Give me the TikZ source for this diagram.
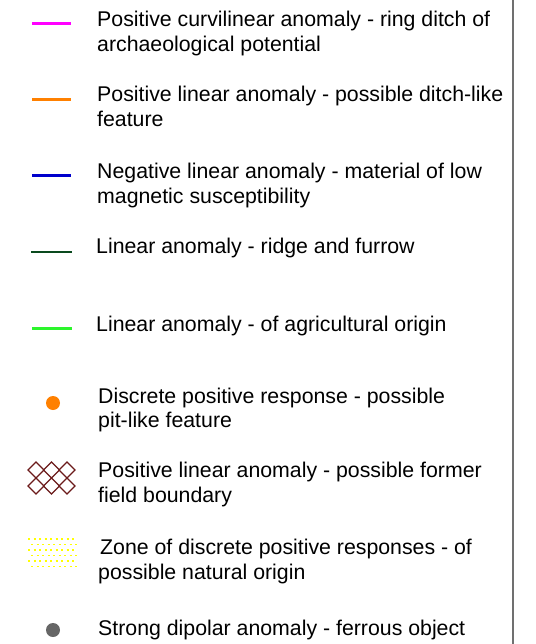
\documentclass[tikz,border=0pt]{standalone}
\usepackage{fontspec}
\setmainfont{Liberation Sans}
\definecolor{cmag}{HTML}{FF00FF}
\definecolor{corange}{HTML}{FF8000}
\definecolor{cblue}{HTML}{0000CC}
\definecolor{cdkgreen}{HTML}{0A4A1E}
\definecolor{cgreen}{HTML}{2CF52C}
\definecolor{chatch}{HTML}{6B1A1A}
\definecolor{cyel}{HTML}{FFFF00}
\definecolor{cgray}{HTML}{666666}
\definecolor{cframe}{HTML}{707070}
\begin{document}
\begin{tikzpicture}[x=1pt,y=-1pt,
  lbl/.style={anchor=base west,inner sep=0pt,font=\fontsize{21.3}{25}\selectfont},
  keyline/.style={line width=3pt},
  diamondline/.style={draw=chatch,line width=1.1pt},
  dotmark/.style={circle,minimum size=14pt,inner sep=0pt}]
\useasboundingbox (0,0) rectangle (535,644);
\draw[cframe,line width=1.5pt] (513,0) -- (513,644);
% item 1
\coordinate (l1a) at (32,24); \coordinate (l1b) at (71,24);
\draw[keyline,cmag] (l1a) -- (l1b);
\node[lbl] (t1a) at (97,27) {Positive curvilinear anomaly - ring ditch of};
\node[lbl] (t1b) at (97,52) {archaeological potential};
% item 2
\coordinate (l2a) at (32,100); \coordinate (l2b) at (71,100);
\draw[keyline,corange] (l2a) -- (l2b);
\node[lbl] (t2a) at (97,102) {Positive linear anomaly - possible ditch-like};
\node[lbl] (t2b) at (97,127) {feature};
% item 3
\coordinate (l3a) at (32,176); \coordinate (l3b) at (71,176);
\draw[keyline,cblue] (l3a) -- (l3b);
\node[lbl] (t3a) at (97,179) {Negative linear anomaly - material of low};
\node[lbl] (t3b) at (97,204) {magnetic susceptibility};
% item 4
\coordinate (l4a) at (31,252); \coordinate (l4b) at (72,252);
\draw[line width=2.5pt,cdkgreen] (l4a) -- (l4b);
\node[lbl] (t4a) at (96,253) {Linear anomaly - ridge and furrow};
% item 5
\coordinate (l5a) at (32,328); \coordinate (l5b) at (72,328);
\draw[keyline,cgreen] (l5a) -- (l5b);
\node[lbl] (t5a) at (96,331) {Linear anomaly - of agricultural origin};
% item 6
\node[dotmark,fill=corange] (d6) at (53,403) {};
\node[lbl] (t6a) at (98,403) {Discrete positive response - possible};
\node[lbl] (t6b) at (98,427) {pit-like feature};
% item 7
\foreach \cx in {36,51.5,67}{
  \foreach \cy in {470,486}{
    \draw[diamondline] (\cx-8,\cy) -- (\cx,\cy-8) -- (\cx+8,\cy) -- (\cx,\cy+8) -- cycle;
  }
}
\node[lbl] (t7a) at (98,477) {Positive linear anomaly - possible former};
\node[lbl] (t7b) at (98,502) {field boundary};
% item 8
\foreach \i/\off in {0/0,1/2.5,2/0,3/2.5,4/0,5/2.5}{
  \draw[cyel,line width=1.6pt,dash pattern=on 2pt off 3.5pt,dash phase=\off pt] (28,539+5.5*\i) -- (77,539+5.5*\i);
}
\node[lbl] (t8a) at (100,554) {Zone of discrete positive responses - of};
\node[lbl] (t8b) at (98,579) {possible natural origin};
% item 9
\node[dotmark,fill=cgray] (d9) at (53,630) {};
\node[lbl] (t9a) at (98,635) {Strong dipolar anomaly - ferrous object};
\end{tikzpicture}
\end{document}
